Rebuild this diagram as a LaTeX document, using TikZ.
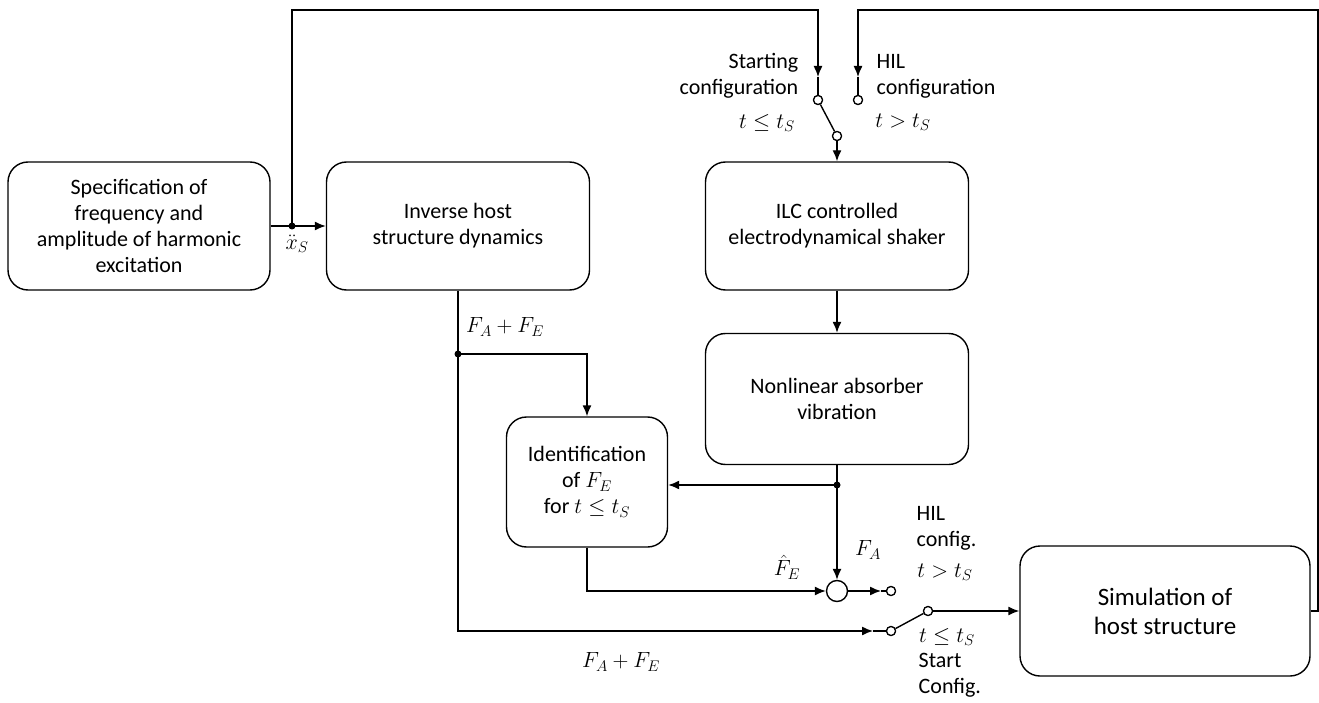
\documentclass[tikz,border=0pt]{standalone}
\usepackage{fix-cm}
\usepackage{fontspec}
\setmainfont{Carlito}
\usetikzlibrary{arrows.meta}
\begin{document}
\begin{tikzpicture}[x=1pt,y=-1pt,line width=1.4pt,
  txt/.style={font=\fontsize{22}{26}\selectfont},
  box/.style={draw,rounded corners=20pt,align=center,txt,inner sep=0pt},
  arr/.style={-{Latex[length=11pt,width=9pt]}},
  dotc/.style={circle,fill,inner sep=0pt,minimum size=7pt},
  contact/.style={circle,draw,fill=white,inner sep=0pt,minimum size=9pt,line width=1.2pt},
  lbl/.style={txt,inner sep=0pt}]
\useasboundingbox (0,0) rectangle (1319,703);

\node[box,minimum width=262,minimum height=128] (spec) at (139,226) {Specification of\\frequency and\\amplitude of harmonic\\excitation};
\node[box,minimum width=263,minimum height=128] (inv) at (458,226) {Inverse host\\structure dynamics};
\node[box,minimum width=263,minimum height=128] (ilc) at (837,226) {ILC controlled\\electrodynamical shaker};
\node[box,minimum width=263,minimum height=131] (nl) at (837,399) {Nonlinear absorber\\vibration};
\node[box,minimum width=161,minimum height=130] (ident) at (587,482) {Identification\\of $F_E$\\for $t\le t_S$};
\node[box,minimum width=290,minimum height=130,font=\fontsize{25}{29}\selectfont] (sim) at (1165,611) {Simulation of\\host structure};

\coordinate (d1) at (292,226);
\coordinate (d2) at (837,485);
\coordinate (d3) at (458,354);
\coordinate (a1) at (818,77);
\coordinate (a2) at (858,77);
\coordinate (a3) at (881,591);
\coordinate (a4) at (873,631);
\coordinate (r1) at (1318,611);

\node[contact] (c1) at (818,100) {};
\node[contact] (c2) at (858,100) {};
\node[contact] (cm) at (837,136) {};
\node[contact] (c3) at (891,591) {};
\node[contact] (c4) at (891,631) {};
\node[contact] (c5) at (928,611) {};
\node[circle,draw,minimum size=21pt,inner sep=0pt] (sum) at (837,591) {};

% connectors
\draw[arr] (spec.east) -- (inv.west);
\draw[arr] (d1) |- (818,10) -- (a1);
\draw (a1) -- (c1);
\draw[arr] (sim.east) -- (r1) |- (858,10) -- (a2);
\draw (a2) -- (c2);
\draw (c1) -- (cm);
\draw[arr] (cm) -- (ilc.north);
\draw[arr] (ilc.south) -- (nl.north);
\draw (nl.south) -- (d2);
\draw[arr] (d2) -- (ident.east |- d2);
\draw[arr] (d2) -- (sum.north);
\draw[arr] (ident.south) |- (sum.west);
\draw[arr] (sum.east) -- (a3);
\draw (a3) -- (c3);
\draw[arr] (inv.south) |- (a4);
\draw (a4) -- (c4);
\draw (c4) -- (c5);
\draw[arr] (c5) -- (sim.west);
\draw[arr] (d3) -| (ident.north);

\node[dotc] at (d1) {};
\node[dotc] at (d2) {};
\node[dotc] at (d3) {};
\node[contact] at (c1) {};
\node[contact] at (c2) {};
\node[contact] at (cm) {};
\node[contact] at (c3) {};
\node[contact] at (c4) {};
\node[contact] at (c5) {};

% labels
\node[lbl] (lxs) at (297,244) {$\ddot{x}_S$};
\node[lbl] (lfafe1) at (505,327) {$F_A+F_E$};
\node[lbl] (lfafe2) at (621,662) {$F_A+F_E$};
\node[lbl] (lfa) at (868,550) {$F_A$};
\node[lbl] (lfe) at (787,567) {$\hat{F}_E$};
\node[lbl,anchor=east,align=right] (lstart) at (799,76) {Starting\\configuration};
\node[lbl] (lt1) at (767,123) {$t\le t_S$};
\node[lbl,anchor=west,align=left] (lhil) at (876,76) {HIL\\configuration};
\node[lbl] (lt2) at (903,122) {$t>t_S$};
\node[lbl,anchor=west,align=left] (lhil2) at (916,528) {HIL\\config.};
\node[lbl] (lt3) at (945,572) {$t>t_S$};
\node[lbl] (lt4) at (947,637) {$t\le t_S$};
\node[lbl,anchor=west,align=left] (lstart2) at (918,675) {Start\\Config.};
\end{tikzpicture}
\end{document}
